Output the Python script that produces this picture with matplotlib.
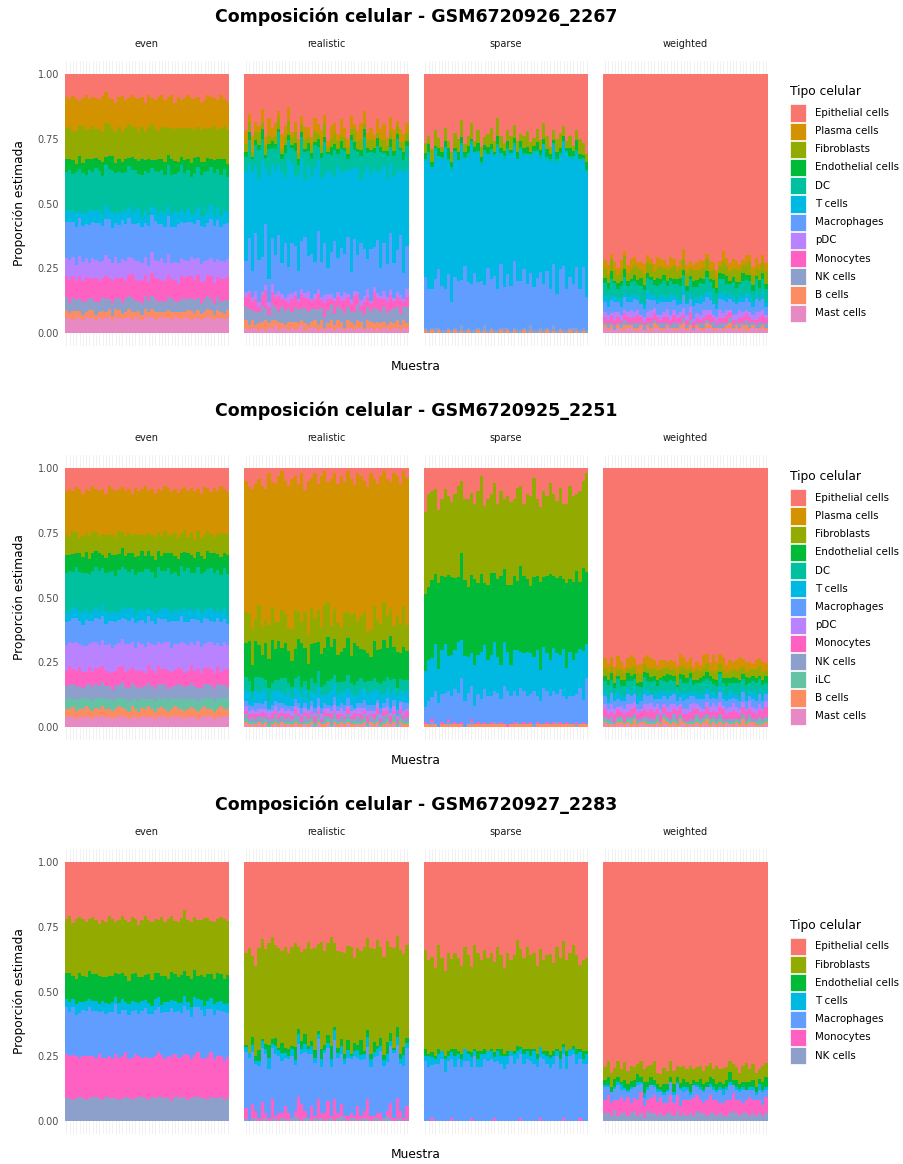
import numpy as np
import matplotlib.pyplot as plt
from matplotlib.patches import Rectangle

plt.rcParams["font.family"] = ["DejaVu Sans"]

W, H = 904, 1164
n_samples = 50
methods = ["even", "realistic", "sparse", "weighted"]

palette = {
    "Epithelial cells": "#F8766D",
    "Plasma cells": "#D39200",
    "Fibroblasts": "#93AA00",
    "Endothelial cells": "#00BA38",
    "DC": "#00C19F",
    "T cells": "#00B9E3",
    "Macrophages": "#619CFF",
    "pDC": "#B983FF",
    "Monocytes": "#FF61C3",
    "NK cells": "#8DA0CB",
    "iLC": "#66C2A5",
    "B cells": "#FC8D62",
    "Mast cells": "#E78AC3",
}

NONE = " ".join(["0"] * n_samples)

# ---- GSM6720926_2267 (percent per sample, one row per cell type) ----
types_2267 = ["Epithelial cells", "Plasma cells", "Fibroblasts", "Endothelial cells", "DC",
              "T cells", "Macrophages", "pDC", "Monocytes", "NK cells", "B cells", "Mast cells"]

even_2267 = [
    "9 10 8 9 11 9 8 10 9 9 / 10 8 7 9 10 11 9 8 10 9 / 8 9 10 9 11 8 9 10 9 8 / 10 9 8 11 9 10 9 8 9 10 / 9 11 10 8 9 9 10 8 9 11",
    "12 11 13 12 10 11 13 12 11 12 / 11 13 12 10 12 11 12 13 11 10 / 12 11 13 12 11 12 10 11 13 12 / 11 12 13 10 12 11 12 13 11 12 / 12 10 11 13 12 11 12 13 10 11",
    "12 13 11 12 12 14 11 12 13 11 / 12 11 13 12 11 12 13 11 12 13 / 11 12 12 13 11 12 14 12 11 12 / 13 11 12 12 13 11 12 12 13 11 / 12 12 13 11 12 13 11 12 12 13",
    "5 4 5 3 5 4 6 4 5 4 / 4 5 3 5 6 4 5 4 5 3 / 5 4 5 6 4 5 3 4 5 4 / 5 4 6 5 4 3 5 4 5 6 / 4 5 4 5 3 5 4 6 4 5",
    "15 16 14 15 17 15 14 16 15 16 / 15 14 16 15 17 15 16 14 15 16 / 16 15 14 17 15 16 15 14 16 15 / 15 16 15 14 16 17 15 15 14 16 / 16 15 17 15 14 16 15 16 15 14",
    "4 5 4 5 3 5 4 6 4 5 / 5 4 5 4 6 4 5 3 5 4 / 4 5 6 4 5 4 3 5 4 5 / 5 4 5 6 4 5 4 5 3 4 / 5 4 4 5 6 4 5 4 5 4",
    "14 15 13 14 15 14 13 15 14 14 / 15 13 14 15 14 13 15 14 14 15 / 13 14 15 14 13 15 14 15 14 13 / 14 15 14 13 15 14 14 15 13 14 / 15 14 13 14 15 14 15 13 14 14",
    "7 8 7 6 8 7 7 6 8 7 / 7 6 8 7 7 8 6 7 8 7 / 6 7 8 7 7 6 8 7 7 8 / 7 8 6 7 8 7 7 6 7 8 / 7 7 8 6 7 8 7 7 6 7",
    "8 9 8 7 9 8 9 8 8 9 / 8 7 9 8 9 8 8 9 7 8 / 9 8 8 9 8 7 9 8 9 8 / 8 9 8 8 7 9 8 9 8 8 / 9 8 7 8 9 8 8 9 8 9",
    "5 4 5 4 5 5 4 5 4 5 / 4 5 5 4 5 4 5 4 5 5 / 5 4 4 5 5 4 5 5 4 4 / 4 5 5 4 4 5 5 4 5 5 / 5 4 5 5 4 4 5 4 5 4",
    "3 2 3 2 3 2 2 3 3 2 / 2 3 2 3 2 3 3 2 2 3 / 3 2 3 2 3 2 3 3 2 2 / 2 3 3 2 2 3 2 3 3 2 / 3 2 2 3 3 2 3 2 2 3",
    "6 6 5 6 6 5 6 6 6 5 / 6 5 6 6 5 6 6 5 6 6 / 5 6 6 5 6 6 6 5 6 6 / 6 6 5 6 6 5 6 6 5 6 / 6 5 6 6 6 5 6 6 5 6",
]

realistic_2267 = [
    "22 15 24 18 20 13 25 17 21 19 / 14 23 19 12 22 18 25 16 21 20 / 24 17 19 22 15 26 20 18 23 17 / 21 25 16 19 22 18 14 23 20 24 / 17 21 19 25 16 22 18 20 23 19",
    "5 3 6 4 2 5 3 7 4 5 / 3 6 4 5 2 4 6 3 5 4 / 3 5 4 6 3 2 5 4 3 6 / 4 3 5 2 4 6 5 3 4 2 / 5 4 6 3 5 4 2 5 3 4",
    "3 4 2 3 5 2 4 3 1 3 / 4 2 3 5 3 4 2 3 4 2 / 3 4 2 3 5 2 3 4 3 2 / 4 3 2 5 3 4 2 3 4 3 / 2 3 4 2 3 5 3 2 4 3",
    "2 3 1 2 2 4 1 2 3 2 / 1 2 3 2 1 3 2 2 1 3 / 2 1 3 2 2 1 3 2 2 3 / 1 2 2 3 1 2 3 2 1 2 / 3 2 1 2 3 2 2 1 3 2",
    "6 9 5 8 11 7 4 10 6 8 / 12 5 9 7 6 10 4 8 11 6 / 7 9 5 8 12 6 7 10 5 9 / 8 4 11 7 6 9 13 5 8 6 / 10 7 5 9 6 8 12 7 5 9",
    "34 28 38 25 31 36 22 40 29 33 / 27 35 24 39 30 26 37 32 23 34 / 29 36 27 33 25 38 30 24 35 28 / 32 26 39 27 34 23 30 36 28 31 / 25 37 29 33 26 35 31 24 38 30",
    "12 20 10 22 16 13 24 9 18 15 / 21 12 20 10 19 17 11 18 22 13 / 17 12 22 14 19 10 16 21 13 18 / 15 22 10 20 14 21 18 12 19 16 / 20 11 18 13 21 14 16 22 10 17",
    "2 1 2 3 2 1 2 2 3 1 / 2 2 1 3 2 2 1 2 2 3 / 1 2 2 1 3 2 2 1 2 2 / 3 1 2 2 1 2 2 3 1 2 / 2 1 3 2 2 1 2 2 1 3",
    "4 6 3 5 2 4 7 3 5 4 / 6 3 4 2 5 4 3 6 4 5 / 3 4 6 3 5 4 2 5 4 3 / 5 4 3 6 4 2 5 4 3 6 / 4 5 3 4 6 3 4 5 2 4",
    "5 6 4 5 4 6 5 3 6 5 / 4 6 5 5 4 6 5 4 6 5 / 5 4 6 5 4 5 6 4 5 5 / 6 5 4 5 6 4 5 5 4 6 / 5 4 6 5 4 6 5 4 5 6",
    "3 2 3 1 3 2 4 2 3 2 / 3 2 1 3 2 3 2 2 3 1 / 2 3 2 3 1 2 3 2 3 2 / 1 3 2 2 3 2 1 3 2 3 / 2 3 2 1 3 2 3 2 3 2",
    "2 1 2 2 1 2 1 2 2 3 / 1 2 2 1 2 1 2 3 1 2 / 2 2 1 2 1 2 2 1 2 2 / 1 2 2 1 2 2 1 2 2 1 / 2 1 2 2 1 2 2 1 2 2",
]

sparse_2267 = [
    "27 24 29 22 25 28 21 26 30 23 / 25 18 27 24 19 26 22 28 25 23 / 21 26 17 24 27 22 25 20 26 23 / 24 22 27 25 21 26 19 24 28 22 / 25 23 20 26 24 28 22 25 27 31",
    NONE,
    "4 3 5 6 4 2 5 3 4 6 / 5 7 3 4 6 2 5 4 3 5 / 6 4 7 5 3 4 6 5 4 3 / 5 6 4 3 5 4 6 5 3 4 / 5 6 4 3 5 2 4 6 5 3",
    "2 3 2 1 3 2 2 4 2 1 / 3 2 2 3 1 2 3 2 2 3 / 2 1 3 2 2 3 1 2 3 2 / 2 3 1 2 3 2 2 3 2 1 / 3 2 2 1 3 2 4 2 1 3",
    "1 1 0 1 1 1 0 1 1 1 / 0 1 1 1 1 0 1 1 1 0 / 1 1 1 0 1 1 1 1 0 1 / 1 0 1 1 1 1 0 1 1 1 / 1 1 0 1 1 1 1 0 1 1",
    "45 52 47 50 43 49 55 44 51 48 / 46 53 41 49 54 47 50 45 52 44 / 49 46 55 43 50 48 53 45 47 51 / 44 50 46 52 48 45 54 43 49 47 / 51 44 48 53 46 49 45 50 42 48",
    "20 16 15 19 23 17 16 21 11 20 / 19 18 25 18 18 22 18 19 16 24 / 19 21 16 25 16 21 18 26 19 19 / 23 18 21 17 20 22 18 22 16 24 / 14 23 25 16 20 17 24 16 24 13",
    NONE,
    NONE,
    "1 1 1 2 1 1 1 1 1 1 / 1 2 1 1 1 1 1 1 2 1 / 1 1 1 1 2 1 1 1 1 1 / 1 1 2 1 1 1 1 1 1 2 / 1 1 1 1 1 2 1 1 1 1",
    "1 0 1 0 1 0 0 1 0 1 / 0 1 0 1 0 0 1 0 1 0 / 1 0 0 1 0 1 0 1 0 0 / 1 0 1 0 0 1 0 1 0 1 / 0 1 0 0 1 0 1 0 1 0",
    NONE,
]

weighted_2267 = [
    "71 73 70 72 74 71 69 73 72 70 / 74 72 71 69 73 75 70 72 71 73 / 70 72 74 71 69 73 72 70 74 71 / 72 70 73 71 74 72 69 71 73 72 / 70 74 71 72 69 73 71 72 70 73",
    "3 4 2 3 3 4 2 3 4 3 / 2 3 4 3 2 3 4 3 3 2 / 4 3 2 3 4 3 3 2 3 4 / 3 2 4 3 3 2 4 3 3 4 / 3 3 2 4 3 3 4 2 3 3",
    "4 3 5 4 3 4 5 3 4 4 / 5 3 4 4 5 3 4 5 3 4 / 4 5 3 4 4 5 3 4 4 3 / 4 5 3 4 4 3 5 4 4 3 / 5 4 3 4 5 4 3 4 4 5",
    "2 2 3 1 2 2 3 2 1 2 / 2 3 2 2 1 2 3 2 2 2 / 1 2 2 3 2 2 1 2 3 2 / 2 2 1 3 2 2 2 3 1 2 / 2 1 3 2 2 2 1 3 2 2",
    "5 4 6 5 4 5 6 4 5 5 / 4 6 5 5 6 4 5 4 6 5 / 5 4 6 5 5 4 6 5 4 5 / 5 6 4 5 4 6 5 5 4 6 / 5 4 6 5 5 4 6 4 5 5",
    "2 3 2 2 1 3 2 2 3 2 / 2 1 2 3 2 2 2 3 2 1 / 3 2 2 2 3 1 2 2 2 3 / 2 2 3 1 2 2 3 2 2 2 / 1 3 2 2 3 2 2 1 3 2",
    "4 3 5 4 4 3 5 4 3 5 / 4 4 3 5 4 3 4 5 4 3 / 5 4 4 3 5 4 3 5 4 4 / 3 5 4 4 3 4 5 3 4 5 / 4 3 4 5 4 3 5 4 4 3",
    "2 2 1 3 2 2 1 2 3 2 / 2 1 2 2 3 2 1 2 2 3 / 2 2 1 2 3 2 2 1 2 2 / 3 2 2 1 2 3 2 2 1 2 / 2 3 2 1 2 2 3 2 2 1",
    "2 1 3 2 2 1 3 2 2 2 / 3 2 1 2 2 3 2 1 2 2 / 2 3 2 2 1 2 3 2 2 1 / 2 2 3 2 1 2 2 3 2 2 / 1 2 2 3 2 1 2 2 3 2",
    "1 2 1 2 1 2 2 1 1 2 / 2 1 2 1 2 1 1 2 2 1 / 1 2 2 1 2 1 2 1 1 2 / 2 1 1 2 1 2 2 1 2 1 / 1 2 1 2 2 1 1 2 1 2",
    "1 1 1 0 1 1 2 1 1 1 / 1 1 0 1 1 2 1 1 1 1 / 0 1 1 1 2 1 1 0 1 1 / 1 2 1 1 1 0 1 1 2 1 / 1 1 1 2 1 1 0 1 1 1",
    "2 1 2 1 2 1 1 2 2 1 / 1 2 1 2 1 2 2 1 1 2 / 2 1 1 2 2 1 2 1 2 1 / 1 2 2 1 1 2 1 2 2 1 / 2 1 2 1 1 2 2 1 2 1",
]

# ---- GSM6720925_2251 ----
types_2251 = ["Epithelial cells", "Plasma cells", "Fibroblasts", "Endothelial cells", "DC",
              "T cells", "Macrophages", "pDC", "Monocytes", "NK cells", "iLC", "B cells", "Mast cells"]

even_2251 = [
    "9 8 9 7 8 10 8 9 7 8 / 9 8 10 7 8 9 8 7 9 8 / 10 8 9 8 7 9 8 10 8 9 / 7 8 9 8 10 8 7 9 8 9 / 8 10 7 8 9 8 9 7 8 9",
    "17 18 16 17 19 16 17 18 17 16 / 18 17 16 19 17 18 16 17 18 17 / 16 18 17 17 19 16 18 17 16 18 / 17 19 16 17 18 17 16 18 17 19 / 16 17 18 17 16 19 17 18 17 16",
    "8 7 9 8 6 8 7 9 8 7 / 6 8 9 7 8 7 9 6 8 8 / 7 9 8 6 8 7 8 9 7 8 / 8 6 7 9 8 7 8 6 9 7 / 8 7 9 8 7 6 8 9 7 8",
    "7 6 7 5 7 6 8 6 7 6 / 7 5 6 7 6 8 6 7 5 7 / 6 7 6 8 5 7 6 7 6 6 / 7 6 8 6 7 5 7 6 7 6 / 6 7 5 7 6 8 6 7 6 7",
    "15 16 14 15 16 15 14 16 15 15 / 16 14 15 16 15 14 16 15 16 14 / 15 16 15 14 16 15 15 14 16 15 / 14 16 15 15 14 16 15 16 14 15 / 16 15 14 16 15 15 16 14 15 16",
    "4 3 4 4 3 5 4 3 4 4 / 3 4 5 3 4 4 3 4 4 5 / 4 3 4 4 5 3 4 4 3 4 / 4 5 3 4 4 3 4 5 4 3 / 4 4 3 4 5 4 3 4 4 3",
    "9 8 10 9 9 8 10 9 8 9 / 10 9 8 9 10 9 9 8 10 9 / 9 10 8 9 9 10 9 8 9 10 / 9 8 10 9 9 10 8 9 9 10 / 8 9 10 9 8 9 10 9 9 8",
    "10 9 10 11 9 10 10 9 11 10 / 9 10 10 11 9 10 9 10 11 10 / 10 9 11 10 10 9 10 11 9 10 / 10 11 9 10 9 10 11 10 9 10 / 11 10 9 10 10 11 9 10 10 9",
    "6 7 6 6 7 6 5 7 6 6 / 7 6 6 5 7 6 7 6 6 7 / 6 6 7 6 5 7 6 6 7 6 / 6 7 6 6 7 6 5 6 7 6 / 7 6 6 7 6 6 7 5 6 7",
    "5 5 6 5 5 4 5 6 5 5 / 5 6 5 5 4 5 5 6 5 5 / 6 5 5 4 5 6 5 5 5 6 / 5 5 4 5 6 5 5 5 6 5 / 5 4 5 6 5 5 6 5 5 4",
    "4 4 3 4 4 4 3 4 4 4 / 4 3 4 4 4 4 3 4 4 4 / 3 4 4 4 4 3 4 4 4 3 / 4 4 4 3 4 4 4 4 3 4 / 4 4 3 4 4 4 4 3 4 4",
    "3 3 4 3 3 3 4 3 3 3 / 3 4 3 3 3 3 4 3 3 3 / 4 3 3 3 3 4 3 3 3 4 / 3 3 3 4 3 3 3 3 4 3 / 3 3 4 3 3 3 3 4 3 3",
    "4 4 4 3 4 4 4 4 3 4 / 4 4 4 4 3 4 4 4 4 3 / 4 4 3 4 4 4 4 3 4 4 / 4 3 4 4 4 4 3 4 4 4 / 3 4 4 4 4 3 4 4 4 4",
]

realistic_2251 = [
    "5 7 8 6 4 7 8 2 5 6 / 3 1 5 7 4 3 6 2 8 5 / 4 2 6 3 1 5 4 2 6 3 / 5 1 4 6 2 3 5 7 2 4 / 6 3 1 4 5 2 3 6 1 4",
    "50 47 54 52 48 55 50 58 46 53 / 56 51 49 54 57 52 48 55 45 59 / 50 53 47 56 51 44 55 49 52 57 / 48 54 50 46 55 52 49 53 58 47 / 51 55 48 52 46 57 50 53 49 56",
    "12 10 14 8 15 11 9 13 12 10 / 7 14 11 9 12 15 10 8 13 11 / 14 9 12 10 16 13 8 11 12 9 / 13 10 15 11 9 12 14 8 10 13 / 11 9 14 12 10 8 13 11 15 10",
    "13 15 10 14 12 9 14 11 16 12 / 15 11 13 12 10 11 14 16 12 10 / 13 15 11 12 14 16 12 13 10 11 / 12 14 10 15 13 11 12 10 9 14 / 12 13 15 11 16 12 13 10 12 11",
    "5 4 3 5 6 4 4 5 3 4 / 4 5 6 3 4 4 5 4 3 4 / 5 4 6 3 4 5 4 3 5 4 / 4 5 3 4 5 4 3 5 4 4 / 3 4 5 4 5 4 3 4 5 4",
    "4 5 3 5 4 6 4 3 5 4 / 5 4 4 6 3 4 5 4 5 3 / 4 5 4 5 3 4 6 5 4 4 / 5 4 5 4 3 5 4 4 5 6 / 4 5 3 4 5 4 5 4 3 5",
    "2 2 1 3 2 2 3 1 2 2 / 3 2 2 1 2 3 2 2 2 1 / 2 2 3 2 2 1 2 3 2 2 / 2 3 2 1 2 2 3 2 2 2 / 1 2 2 3 2 2 2 1 3 2",
    "2 1 2 1 2 1 2 2 1 2 / 1 2 1 2 2 1 2 1 2 1 / 2 1 2 2 1 2 1 2 1 2 / 2 1 2 1 2 2 1 2 1 1 / 2 2 1 2 1 2 1 2 2 1",
    "1 2 1 2 1 2 1 1 2 1 / 2 1 2 1 1 2 1 2 1 2 / 1 2 1 1 2 1 2 1 2 1 / 1 2 1 2 1 2 1 2 1 2 / 2 1 2 1 2 1 1 2 1 2",
    "2 1 2 1 2 2 1 2 1 2 / 1 2 1 2 1 2 2 1 2 1 / 2 1 2 1 2 1 2 2 1 2 / 1 2 2 1 2 1 2 1 2 1 / 2 1 2 2 1 2 1 2 1 2",
    "1 1 1 1 0 1 1 1 1 1 / 1 0 1 1 1 1 1 0 1 1 / 1 1 1 0 1 1 1 1 1 0 / 1 1 0 1 1 1 1 1 0 1 / 1 1 1 1 0 1 1 1 1 1",
    "1 1 0 1 1 1 1 0 1 1 / 1 1 1 0 1 1 1 1 0 1 / 1 0 1 1 1 1 0 1 1 1 / 1 1 1 1 0 1 1 0 1 1 / 1 0 1 1 1 1 0 1 1 1",
    "1 0 1 0 1 0 1 0 0 1 / 0 1 0 1 0 1 0 0 1 0 / 1 0 1 0 0 1 0 1 0 1 / 0 1 0 0 1 0 1 0 1 0 / 1 0 0 1 0 1 0 1 0 0",
]

sparse_2251 = [
    "17 10 9 8 16 12 8 11 13 10 / 7 5 12 12 10 14 9 3 15 12 / 10 6 14 9 12 11 13 12 8 7 / 14 10 11 4 12 15 9 11 6 10 / 13 8 14 14 7 11 10 9 5 2",
    NONE,
    "32 36 35 33 28 30 34 31 29 33 / 35 28 31 34 32 29 36 38 30 33 / 31 35 29 33 27 34 32 30 36 31 / 28 33 35 38 30 29 33 31 35 32 / 30 34 29 31 36 33 30 35 32 38",
    "30 28 31 27 33 29 26 32 30 28 / 25 34 29 27 31 33 28 30 24 29 / 32 27 30 35 28 26 31 29 27 33 / 30 28 26 31 29 34 27 30 33 28 / 29 31 27 33 28 30 32 26 31 28",
    NONE,
    "14 16 15 18 13 17 19 14 16 15 / 20 15 17 14 13 16 15 18 17 14 / 16 19 14 13 17 15 12 16 18 14 / 15 17 16 13 18 12 16 15 14 17 / 16 13 18 12 17 14 16 15 18 13",
    "6 9 9 13 9 11 12 11 11 13 / 12 17 10 12 13 7 11 10 13 11 / 10 12 12 9 15 13 11 12 10 14 / 12 11 11 13 10 9 14 12 11 12 / 11 13 11 9 11 11 11 14 8 18",
    NONE,
    "1 0 1 0 0 1 0 1 0 1 / 0 1 0 0 1 0 1 0 1 0 / 1 0 0 1 0 1 0 1 0 0 / 1 0 1 0 1 0 0 1 0 1 / 0 1 0 1 0 0 1 0 1 0",
    "0 0 1 0 0 0 0 1 0 0 / 0 0 0 0 1 0 0 0 0 0 / 0 1 0 0 0 0 0 0 1 0 / 0 0 0 1 0 0 0 0 0 0 / 1 0 0 0 0 0 1 0 0 0",
    NONE,
    "1 1 1 1 0 1 1 1 1 1 / 1 1 0 1 1 1 1 1 1 1 / 1 1 1 1 1 0 1 1 1 1 / 1 1 1 0 1 1 1 1 1 1 / 1 1 1 1 1 1 0 1 1 1",
    NONE,
]

weighted_2251 = [
    "74 75 73 76 74 75 77 74 73 75 / 76 74 75 73 72 75 76 74 75 77 / 74 76 75 74 73 75 74 76 75 77 / 73 74 76 70 75 74 73 76 75 74 / 75 73 76 74 75 77 74 75 74 76",
    "4 3 4 3 5 3 2 4 5 3 / 3 4 3 5 4 3 2 4 3 2 / 4 3 3 5 4 3 4 2 3 2 / 5 4 3 6 3 4 5 3 4 3 / 4 5 3 4 3 2 4 3 4 3",
    "3 3 2 3 3 4 3 2 3 3 / 4 3 3 2 3 3 4 3 3 3 / 2 3 4 3 3 3 2 3 4 3 / 3 3 2 3 4 3 3 2 3 3 / 3 4 3 2 3 3 3 4 3 2",
    "2 2 3 2 1 2 2 3 2 2 / 1 2 2 3 2 2 2 1 2 3 / 2 2 1 2 3 2 2 2 1 2 / 2 3 2 2 2 1 2 3 2 2 / 2 1 2 3 2 2 2 1 2 3",
    "4 5 4 3 5 4 4 3 5 4 / 4 3 5 4 4 5 3 4 4 5 / 4 4 3 5 4 4 5 3 4 4 / 5 4 4 3 4 5 4 4 3 4 / 4 5 4 4 3 4 5 4 4 3",
    "2 2 1 2 3 2 2 2 1 2 / 3 2 2 2 1 2 2 3 2 2 / 2 1 2 2 3 2 2 1 2 2 / 2 2 3 2 1 2 2 2 3 2 / 2 2 1 2 2 3 2 2 2 1",
    "3 2 4 3 3 2 3 4 3 3 / 2 3 4 3 3 3 2 4 3 3 / 3 4 2 3 3 4 3 3 2 3 / 4 3 3 2 3 4 3 3 3 2 / 3 3 4 3 2 3 3 4 3 3",
    "2 2 3 2 1 2 2 3 2 2 / 2 1 2 3 2 2 2 2 1 2 / 3 2 2 1 2 2 3 2 2 2 / 1 2 2 3 2 2 1 2 2 3 / 2 2 2 1 3 2 2 2 1 2",
    "3 2 2 3 3 2 3 2 3 3 / 2 3 3 2 4 3 2 3 3 2 / 3 2 3 3 2 3 3 4 2 3 / 2 3 3 2 3 3 4 2 3 3 / 3 2 3 3 2 3 2 3 3 4",
    "1 1 2 1 1 1 0 1 1 1 / 1 1 1 2 1 1 1 0 1 1 / 1 2 1 1 1 0 1 1 1 1 / 1 1 0 1 1 2 1 1 1 1 / 0 1 1 1 2 1 1 1 1 1",
    "1 1 1 0 1 1 1 1 2 1 / 1 0 1 1 1 1 2 1 1 1 / 1 1 1 1 0 1 1 1 2 1 / 1 1 2 1 1 1 1 0 1 1 / 1 1 1 1 1 0 1 2 1 1",
    "1 1 0 1 1 1 1 1 1 2 / 1 1 1 1 0 1 1 1 2 1 / 1 1 1 2 1 1 0 1 1 1 / 1 2 1 1 1 1 1 1 0 1 / 1 1 2 1 1 1 1 0 1 1",
    "1 0 1 0 1 1 0 1 0 1 / 0 1 1 0 1 0 1 0 1 1 / 0 1 0 1 1 0 1 0 1 0 / 1 1 0 1 0 1 0 1 1 0 / 1 0 1 0 1 1 0 1 0 1",
]

# ---- GSM6720927_2283 ----
types_2283 = ["Epithelial cells", "Fibroblasts", "Endothelial cells", "T cells",
              "Macrophages", "Monocytes", "NK cells"]

even_2283 = [
    "22 21 23 22 21 22 23 22 21 22 / 24 22 23 21 22 23 22 21 22 23 / 21 22 24 22 21 22 23 22 22 21 / 23 22 21 22 23 22 18 22 23 21 / 22 23 22 21 22 23 22 21 22 23",
    "21 22 20 23 21 22 21 20 22 21 / 20 22 21 23 22 20 21 22 21 23 / 22 21 20 22 23 21 22 21 20 22 / 21 23 22 20 21 22 23 21 22 20 / 21 22 23 21 20 22 21 22 23 21",
    "10 11 9 10 11 10 9 11 10 10 / 11 9 10 11 10 9 11 10 10 9 / 10 11 10 9 10 11 10 10 9 11 / 10 9 11 10 10 11 9 10 11 10 / 9 10 11 10 9 10 11 10 10 11",
    "3 4 3 4 4 3 4 3 4 4 / 3 4 4 3 4 3 4 4 3 4 / 4 3 4 4 3 4 3 4 4 3 / 4 4 3 4 3 4 4 3 4 4 / 3 4 4 3 4 4 3 4 3 4",
    "18 17 18 16 17 18 17 19 17 18 / 16 18 17 17 18 19 17 18 16 17 / 18 17 16 18 19 17 17 18 17 16 / 18 17 19 16 18 17 18 17 16 18 / 17 19 17 18 16 17 18 17 19 17",
    "17 16 17 16 15 16 17 16 16 15 / 17 16 15 16 15 17 16 16 17 15 / 16 17 16 15 16 16 15 16 17 16 / 15 16 17 16 15 16 16 17 15 16 / 17 16 15 16 17 15 16 16 15 16",
    "9 9 8 9 9 9 8 9 9 9 / 9 8 9 9 9 9 8 9 9 9 / 8 9 9 9 9 8 9 9 9 9 / 9 9 8 9 9 9 9 8 9 9 / 9 9 9 8 9 9 9 9 8 9",
]

realistic_2283 = [
    "36 33 38 40 33 32 34 31 31 32 / 33 34 34 35 33 32 35 36 34 31 / 35 33 33 31 34 33 29 33 34 36 / 35 32 33 37 34 35 33 31 32 34 / 30 33 36 31 34 33 29 34 35 33",
    "36 40 33 35 39 41 37 39 42 36 / 38 35 40 37 38 41 34 36 33 40 / 37 39 35 41 36 38 42 34 37 35 / 39 36 41 33 38 35 40 37 39 36 / 41 35 37 39 34 38 36 40 35 37",
    "1 0 3 2 4 1 2 5 2 3 / 1 4 2 3 1 5 2 3 4 1 / 2 3 1 4 2 3 5 1 2 3 / 2 4 1 3 2 6 1 3 2 4 / 1 3 2 5 3 1 4 2 3 2",
    "2 2 3 1 2 3 2 4 2 3 / 2 3 2 1 3 2 4 2 3 2 / 3 2 2 3 1 2 3 4 2 3 / 2 3 1 2 3 2 2 4 3 2 / 3 2 2 3 2 1 3 2 4 2",
    "22 24 21 18 20 22 23 19 21 24 / 22 20 19 21 24 18 22 20 23 25 / 21 20 24 18 23 22 19 24 21 20 / 20 22 21 23 19 22 20 21 18 23 / 22 24 20 19 23 25 21 18 20 23",
    "4 0 6 3 1 7 2 1 8 1 / 3 2 5 3 0 2 9 7 3 0 / 6 1 8 2 3 7 1 9 2 5 / 1 2 2 1 6 1 3 8 2 1 / 2 3 0 2 6 1 8 3 1 5",
    "1 0 1 1 0 1 1 0 1 1 / 0 1 1 0 1 2 1 0 1 1 / 0 1 1 1 0 1 1 0 1 2 / 1 0 1 1 0 1 1 1 0 1 / 1 0 1 2 1 0 1 1 0 1",
]

sparse_2283 = [
    "34 38 37 41 32 37 42 35 38 35 / 37 40 33 36 41 32 35 38 34 37 / 35 39 33 36 41 35 38 36 30 34 / 37 33 36 35 40 34 38 36 35 39 / 33 37 31 38 35 32 36 40 38 37",
    "38 36 37 34 40 36 33 38 35 37 / 36 34 39 37 33 40 38 35 38 36 / 37 35 39 36 33 38 35 37 41 38 / 35 39 36 37 34 38 35 37 38 34 / 39 36 40 35 37 39 36 33 35 36",
    "3 1 2 1 2 0 1 2 1 3 / 1 2 0 1 2 1 3 1 2 0 / 1 2 1 3 1 2 0 1 2 1 / 2 1 3 1 2 0 1 2 1 2 / 1 3 1 2 0 1 2 1 3 1",
    "2 4 3 2 4 3 5 2 3 4 / 2 3 5 3 4 2 3 5 2 4 / 3 2 4 3 5 3 2 4 3 2 / 4 3 2 5 3 4 2 3 4 3 / 2 4 3 5 3 2 4 3 2 4",
    "23 21 21 22 22 24 19 23 23 21 / 24 21 23 23 20 25 21 21 24 23 / 24 22 23 22 20 22 25 22 24 25 / 22 24 23 22 21 24 24 22 20 22 / 25 20 25 20 25 26 22 23 22 22",
    "0 0 1 0 0 0 0 0 1 0 / 0 0 0 0 1 0 0 0 0 0 / 0 1 0 0 0 0 0 0 0 1 / 0 0 0 0 0 1 0 0 0 0 / 0 0 1 0 0 0 0 1 0 0",
    NONE,
]

weighted_2283 = [
    "79 77 80 78 77 79 78 80 77 79 / 78 76 80 78 79 77 79 81 78 80 / 77 79 78 80 78 79 77 80 79 78 / 80 78 77 79 78 80 78 79 77 78 / 79 80 78 77 79 78 80 79 78 77",
    "5 6 5 4 6 5 7 5 6 5 / 4 6 5 6 5 7 4 5 6 5 / 6 5 4 6 5 5 7 4 6 5 / 5 6 5 4 7 5 6 5 4 6 / 5 4 6 7 5 6 5 4 6 5",
    "2 3 2 3 2 1 3 2 2 3 / 3 2 4 2 3 2 2 1 3 2 / 2 3 2 2 3 2 3 2 1 3 / 2 2 3 3 2 2 2 3 4 2 / 3 2 2 3 2 3 2 2 3 4",
    "1 1 0 1 1 2 1 1 1 0 / 1 1 2 1 0 1 1 1 1 1 / 0 1 1 1 2 1 1 0 1 1 / 1 0 1 1 1 1 2 1 1 0 / 1 1 1 0 1 1 1 2 1 1",
    "5 3 4 4 6 3 4 2 5 4 / 6 3 3 4 5 3 4 2 3 4 / 5 3 4 6 3 4 2 5 3 4 / 4 5 3 4 3 5 3 4 6 3 / 4 3 5 4 3 4 2 4 5 3",
    "5 7 5 4 6 6 5 7 4 5 / 6 8 5 4 6 7 5 6 5 4 / 7 5 6 4 5 6 5 7 6 5 / 4 6 7 5 6 4 5 6 5 7 / 5 6 4 5 7 5 6 5 4 6",
    "3 3 2 4 2 3 3 2 3 4 / 2 3 1 4 3 3 2 3 2 3 / 3 2 4 2 3 2 3 2 4 3 / 3 2 3 3 2 3 2 2 3 4 / 3 2 3 3 2 3 2 3 2 3",
]

panels = [
    ("GSM6720926_2267", types_2267, [even_2267, realistic_2267, sparse_2267, weighted_2267]),
    ("GSM6720925_2251", types_2251, [even_2251, realistic_2251, sparse_2251, weighted_2251]),
    ("GSM6720927_2283", types_2283, [even_2283, realistic_2283, sparse_2283, weighted_2283]),
]


def parse(rows, name):
    out = []
    for r in rows:
        v = [float(s) for s in r.replace("/", " ").split()]
        assert len(v) == n_samples, (name, len(v), r[:30])
        out.append(v)
    a = np.array(out)
    return a / a.sum(axis=0)


def fx(x):
    return x / W


def fy(y):
    return 1 - y / H


fig = plt.figure(figsize=(W / 100, H / 100), dpi=100)
x = np.arange(n_samples)

for k, (sample, types, facets) in enumerate(panels):
    oy = k * 394
    top, bottom = 61 + oy, 346 + oy
    for i, (method, rows) in enumerate(zip(methods, facets)):
        props = parse(rows, sample + " " + method)
        left = 64.5 + i * 179.5
        ax = fig.add_axes([fx(left), fy(bottom), 165 / W, (bottom - top) / H])
        base = np.zeros(n_samples)
        # first cell type ends up on top, like ggplot's stacking
        for t, p in reversed(list(zip(types, props))):
            ax.bar(x, p, bottom=base, width=1.0, color=palette[t],
                   linewidth=0, antialiased=False, zorder=2)
            base += p
        ax.set_xlim(-0.6, n_samples - 0.4)
        ax.set_ylim(-0.05, 1.05)
        ax.set_xticks(x)
        ax.grid(axis="x", color="#EBEBEB", linewidth=0.5)
        ax.set_axisbelow(True)
        ax.tick_params(length=0, labelbottom=False)
        for s in ax.spines.values():
            s.set_visible(False)
        ax.set_yticks([0, 0.25, 0.5, 0.75, 1.0])
        if i == 0:
            ax.set_yticklabels(["0.00", "0.25", "0.50", "0.75", "1.00"],
                               fontsize=7, color="#4D4D4D")
            ax.tick_params(axis="y", pad=4)
        else:
            ax.set_yticklabels([])
        fig.text(fx(left + 82.5), fy(44 + oy), method, ha="center", va="center",
                 fontsize=7, color="#1A1A1A")

    fig.text(fx(416), fy(17 + oy), "Composición celular - " + sample,
             ha="center", va="center", fontsize=12.5, fontweight="bold")
    fig.text(fx(416), fy(366 + oy), "Muestra", ha="center", va="center", fontsize=8.8)
    fig.text(fx(20), fy(203.5 + oy), "Proporción estimada", ha="center", va="center",
             rotation=90, fontsize=8.8)

    # legend
    n = len(types)
    ltop = 203.5 + oy - (19 + n * 18.2) / 2
    fig.text(fx(790), fy(ltop + 7), "Tipo celular", ha="left", va="center", fontsize=8.8)
    for j, t in enumerate(types):
        cy = ltop + 28.1 + j * 18.2
        fig.add_artist(Rectangle((fx(790), fy(cy + 8.6)), 16.5 / W, 17.2 / H,
                                 transform=fig.transFigure, facecolor=palette[t],
                                 edgecolor="white", linewidth=0.5))
        fig.text(fx(815), fy(cy), t, ha="left", va="center", fontsize=7.4)

fig.savefig("out.png", dpi=100)
